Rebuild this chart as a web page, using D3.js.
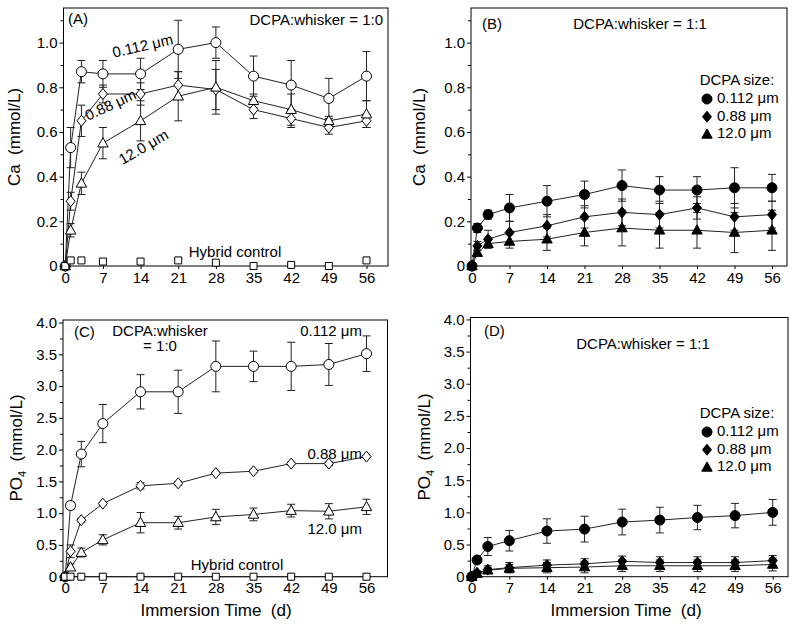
<!DOCTYPE html>
<html><head><meta charset="utf-8">
<script src="https://cdn.jsdelivr.net/npm/d3@7"></script>
<style>
body{margin:0;background:#fff}
svg{display:block}
text{font-family:"Liberation Sans",Arial,Helvetica,sans-serif;fill:#000}
</style>
</head><body>
<svg id="c" width="800" height="635"></svg>
<script>
// ---------- DATA ----------
const days = [0, 1, 3, 7, 14, 21, 28, 35, 42, 49, 56];
const xTickDays = [0, 7, 14, 21, 28, 35, 42, 49, 56];
const caTicks = [0, 0.2, 0.4, 0.6, 0.8, 1.0];
const caMinor = [0.1, 0.3, 0.5, 0.7, 0.9, 1.1];
const po4Ticks = [0, 0.5, 1.0, 1.5, 2.0, 2.5, 3.0, 3.5, 4.0];
const po4Minor = [0.25, 0.75, 1.25, 1.75, 2.25, 2.75, 3.25, 3.75];
const sizeLabels = ["0.112 \u03bcm", "0.88 \u03bcm", "12.0 \u03bcm"];

// (A) Ca, DCPA:whisker = 1:0
const caA_112 = [0, 0.53, 0.87, 0.86, 0.86, 0.97, 1.00, 0.85, 0.81, 0.75, 0.85];
const caA_112_err = [0, 0.09, 0.05, 0.06, 0.07, 0.13, 0.07, 0.09, 0.11, 0.09, 0.11];
const caA_088 = [0, 0.29, 0.65, 0.77, 0.77, 0.81, 0.79, 0.70, 0.66, 0.62, 0.65];
const caA_088_err = [0, 0.04, 0.07, 0.04, 0.05, 0.06, 0.09, 0.04, 0.04, 0.03, 0.03];
const caA_120 = [0, 0.16, 0.37, 0.55, 0.65, 0.76, 0.80, 0.74, 0.70, 0.65, 0.68];
const caA_120_err = [0, 0.03, 0.05, 0.07, 0.09, 0.11, 0.12, 0.03, 0.07, 0.02, 0.06];
const caA_ctrl = [0, 0.025, 0.025, 0.02, 0.02, 0.025, 0.015, 0.0, 0.005, 0.0, 0.025];

// (B) Ca, DCPA:whisker = 1:1
const caB_112 = [0, 0.17, 0.23, 0.26, 0.29, 0.32, 0.36, 0.34, 0.34, 0.35, 0.35];
const caB_112_err = [0, 0.02, 0.02, 0.06, 0.07, 0.06, 0.07, 0.06, 0.06, 0.09, 0.06];
const caB_088 = [0, 0.09, 0.12, 0.15, 0.18, 0.22, 0.24, 0.23, 0.26, 0.22, 0.23];
const caB_088_err = [0, 0.02, 0.04, 0.05, 0.05, 0.05, 0.06, 0.06, 0.05, 0.06, 0.06];
const caB_120 = [0, 0.06, 0.10, 0.11, 0.12, 0.15, 0.17, 0.16, 0.16, 0.15, 0.16];
const caB_120_err = [0, 0.01, 0.02, 0.03, 0.05, 0.06, 0.08, 0.08, 0.08, 0.09, 0.09];

// (C) PO4, DCPA:whisker = 1:0
const poC_112 = [0, 1.12, 1.93, 2.41, 2.91, 2.91, 3.31, 3.31, 3.31, 3.34, 3.51];
const poC_112_err = [0, 0.06, 0.20, 0.30, 0.27, 0.34, 0.40, 0.24, 0.38, 0.33, 0.28];
const poC_088 = [0, 0.40, 0.89, 1.15, 1.43, 1.47, 1.63, 1.66, 1.78, 1.78, 1.89];
const poC_088_err = [0, 0.10, 0.03, 0.02, 0.05, 0.03, 0.02, 0.02, 0.02, 0.03, 0.02];
const poC_120 = [0, 0.15, 0.38, 0.58, 0.85, 0.85, 0.94, 0.98, 1.04, 1.03, 1.10];
const poC_120_err = [0, 0.05, 0.07, 0.08, 0.16, 0.10, 0.12, 0.10, 0.10, 0.12, 0.12];
const poC_ctrl = [0, 0, 0, 0, 0, 0, 0, 0, 0, 0, 0];

// (D) PO4, DCPA:whisker = 1:1
const poD_112 = [0, 0.26, 0.47, 0.56, 0.71, 0.74, 0.85, 0.88, 0.92, 0.95, 1.00];
const poD_112_err = [0, 0.05, 0.14, 0.16, 0.19, 0.20, 0.20, 0.20, 0.19, 0.19, 0.20];
const poD_088 = [0, 0.06, 0.11, 0.14, 0.18, 0.20, 0.24, 0.22, 0.22, 0.22, 0.25];
const poD_088_err = [0, 0.03, 0.06, 0.08, 0.08, 0.08, 0.08, 0.09, 0.09, 0.09, 0.08];
const poD_120 = [0, 0.05, 0.10, 0.13, 0.14, 0.15, 0.17, 0.17, 0.17, 0.17, 0.19];
const poD_120_err = [0, 0.02, 0.04, 0.06, 0.08, 0.09, 0.09, 0.09, 0.09, 0.09, 0.10];

// ---------- DRAWING ----------
const svg = d3.select("#c");

const shapes = {
  circle: "M5,0A5,5 0 1,1 -5,0A5,5 0 1,1 5,0Z",
  diamond: "M0,-5.5L4.5,0L0,5.5L-4.5,0Z",
  triangle: "M0,-5.5L5.2,3.8L-5.2,3.8Z",
  square: "M-3.5,-3.5H3.5V3.5H-3.5Z"
};

function fmtTick(d) { return d === 0 ? "0" : d3.format(".1f")(d); }

function panel(cfg) {
  const g = svg.append("g");
  const x = d3.scaleLinear().domain(cfg.xd).range([cfg.l, cfg.r]);
  const y = d3.scaleLinear().domain([0, cfg.yTop]).range([cfg.b, cfg.t]);

  // y axis major
  const ya = g.append("g").attr("transform", `translate(${cfg.l},0)`)
    .call(d3.axisLeft(y).tickValues(cfg.yTicks).tickSize(4).tickPadding(2).tickFormat(fmtTick));
  const ym = g.append("g").attr("transform", `translate(${cfg.l},0)`)
    .call(d3.axisLeft(y).tickValues(cfg.yMinor).tickSize(3).tickFormat(""));
  const xa = g.append("g").attr("transform", `translate(0,${cfg.b})`)
    .call(d3.axisBottom(x).tickValues(xTickDays).tickSize(3).tickPadding(3));
  [ya, ym, xa].forEach(a => {
    a.select(".domain").remove();
    a.selectAll("text").style("font-size", "15px").attr("fill", "#000");
    a.selectAll("line").attr("stroke", "#000");
  });

  // frame
  g.append("rect").attr("x", cfg.l).attr("y", cfg.t)
    .attr("width", cfg.r - cfg.l).attr("height", cfg.b - cfg.t)
    .attr("fill", "none").attr("stroke", "#000").attr("stroke-width", 1);

  const line = d3.line().x((d, i) => x(days[i])).y(d => y(d));

  cfg.series.forEach(s => {
    if (s.line !== false) {
      g.append("path").attr("d", line(s.v)).attr("fill", "none")
        .attr("stroke", "#222").attr("stroke-width", 1);
    }
  });
  cfg.series.forEach(s => {
    if (!s.e) return;
    s.v.forEach((v, i) => {
      const e = s.e[i];
      if (!e) return;
      const cx = x(days[i]);
      const y1 = y(v + e), y2 = y(Math.max(0, v - e));
      g.append("line").attr("x1", cx).attr("x2", cx).attr("y1", y1).attr("y2", y2)
        .attr("stroke", "#222").attr("stroke-width", 1);
      [y1, y2].forEach(yy => g.append("line").attr("x1", cx - 4).attr("x2", cx + 4)
        .attr("y1", yy).attr("y2", yy).attr("stroke", "#222").attr("stroke-width", 1));
    });
  });
  cfg.series.forEach(s => {
    g.selectAll(null).data(s.v).enter().append("path")
      .attr("d", shapes[s.shape])
      .attr("transform", (d, i) => `translate(${x(days[i])},${y(d)})`)
      .attr("fill", s.filled ? "#000" : "#fff")
      .attr("stroke", "#000").attr("stroke-width", 1);
  });

  // y title
  const yt = g.append("text")
    .attr("transform", `translate(${cfg.ytx},${cfg.yty}) rotate(-90)`)
    .attr("text-anchor", "middle").style("font-size", "17px");
  if (cfg.po4) {
    yt.append("tspan").text("PO");
    yt.append("tspan").text("4").style("font-size", "11px").attr("dy", 4);
    yt.append("tspan").text("\u00a0\u00a0(mmol/L)").attr("dy", -4);
  } else {
    yt.text("Ca\u00a0\u00a0(mmol/L)");
  }
  if (cfg.xtitle) {
    g.append("text").attr("x", cfg.xtitle[0]).attr("y", cfg.xtitle[1])
      .attr("text-anchor", "middle").style("font-size", "17px")
      .text("Immersion Time\u00a0\u00a0(d)");
  }
  // annotations
  (cfg.notes || []).forEach(n => {
    g.append("text")
      .attr("transform", `translate(${n[1]},${n[2]}) rotate(${n[4] || 0})`)
      .attr("text-anchor", n[3] || "start").attr("dominant-baseline", "middle")
      .style("font-size", (n[5] || 15) + "px").text(n[0]);
  });
  // legend
  if (cfg.legend) {
    const [lx, ly] = cfg.legend;
    g.append("text").attr("x", lx + 34).attr("y", ly).attr("text-anchor", "middle")
      .attr("dominant-baseline", "middle").style("font-size", "15px").text("DCPA size:");
    ["circle", "diamond", "triangle"].forEach((sh, i) => {
      const yy = ly + 18 + i * 17.7;
      g.append("path").attr("d", shapes[sh]).attr("transform", `translate(${lx + 4},${yy})`)
        .attr("fill", "#000").attr("stroke", "#000");
      g.append("text").attr("x", lx + 14).attr("y", yy).attr("dominant-baseline", "middle")
        .style("font-size", "15px").text(sizeLabels[i]);
    });
  }
}

panel({
  l: 63.5, r: 388, t: 8, b: 266, xd: [-0.33, 60.0], yTop: 1.155,
  yTicks: caTicks, yMinor: caMinor, ytx: 20, yty: 137,
  series: [
    { v: caA_112, e: caA_112_err, shape: "circle" },
    { v: caA_088, e: caA_088_err, shape: "diamond" },
    { v: caA_120, e: caA_120_err, shape: "triangle" },
    { v: caA_ctrl, shape: "square", line: false }
  ],
  notes: [
    ["(A)", 68, 20, "start", 0],
    ["DCPA:whisker = 1:0", 383, 21, "end", 0],
    ["0.112 \u03bcm", 143, 47, "middle", -13],
    ["0.88 \u03bcm", 111, 106, "middle", -25],
    ["12.0 \u03bcm", 144, 148, "middle", -30],
    ["Hybrid control", 235, 253, "middle", 0]
  ]
});

panel({
  l: 471, r: 787, t: 8, b: 266, xd: [-0.19, 58.8], yTop: 1.155,
  yTicks: caTicks, yMinor: caMinor, ytx: 425, yty: 137,
  series: [
    { v: caB_112, e: caB_112_err, shape: "circle", filled: true },
    { v: caB_088, e: caB_088_err, shape: "diamond", filled: true },
    { v: caB_120, e: caB_120_err, shape: "triangle", filled: true }
  ],
  notes: [
    ["(B)", 482, 25, "start", 0],
    ["DCPA:whisker = 1:1", 640, 25, "middle", 0]
  ],
  legend: [703, 81]
});

panel({
  l: 63, r: 387.5, t: 320, b: 576.7, xd: [-0.4, 59.9], yTop: 4.04,
  yTicks: po4Ticks, yMinor: po4Minor, ytx: 22, yty: 448, po4: true,
  xtitle: [216, 616],
  series: [
    { v: poC_112, e: poC_112_err, shape: "circle" },
    { v: poC_088, e: poC_088_err, shape: "diamond" },
    { v: poC_120, e: poC_120_err, shape: "triangle" },
    { v: poC_ctrl, shape: "square" }
  ],
  notes: [
    ["(C)", 74, 333, "start", 0],
    ["DCPA:whisker", 160, 332, "middle", 0],
    ["= 1:0", 160, 347, "middle", 0],
    ["0.112 \u03bcm", 362, 332, "end", 0],
    ["0.88 \u03bcm", 362, 455, "end", 0],
    ["12.0 \u03bcm", 362, 530, "end", 0],
    ["Hybrid control", 237, 566, "middle", 0]
  ]
});

panel({
  l: 470.5, r: 788, t: 317.5, b: 576.7, xd: [-0.22, 58.85], yTop: 4.03,
  yTicks: po4Ticks, yMinor: po4Minor, ytx: 430, yty: 447, po4: true,
  xtitle: [626, 616],
  series: [
    { v: poD_112, e: poD_112_err, shape: "circle", filled: true },
    { v: poD_088, e: poD_088_err, shape: "diamond", filled: true },
    { v: poD_120, e: poD_120_err, shape: "triangle", filled: true }
  ],
  notes: [
    ["(D)", 484, 332, "start", 0],
    ["DCPA:whisker = 1:1", 643, 345, "middle", 0]
  ],
  legend: [703, 414]
});
</script>
</body></html>
